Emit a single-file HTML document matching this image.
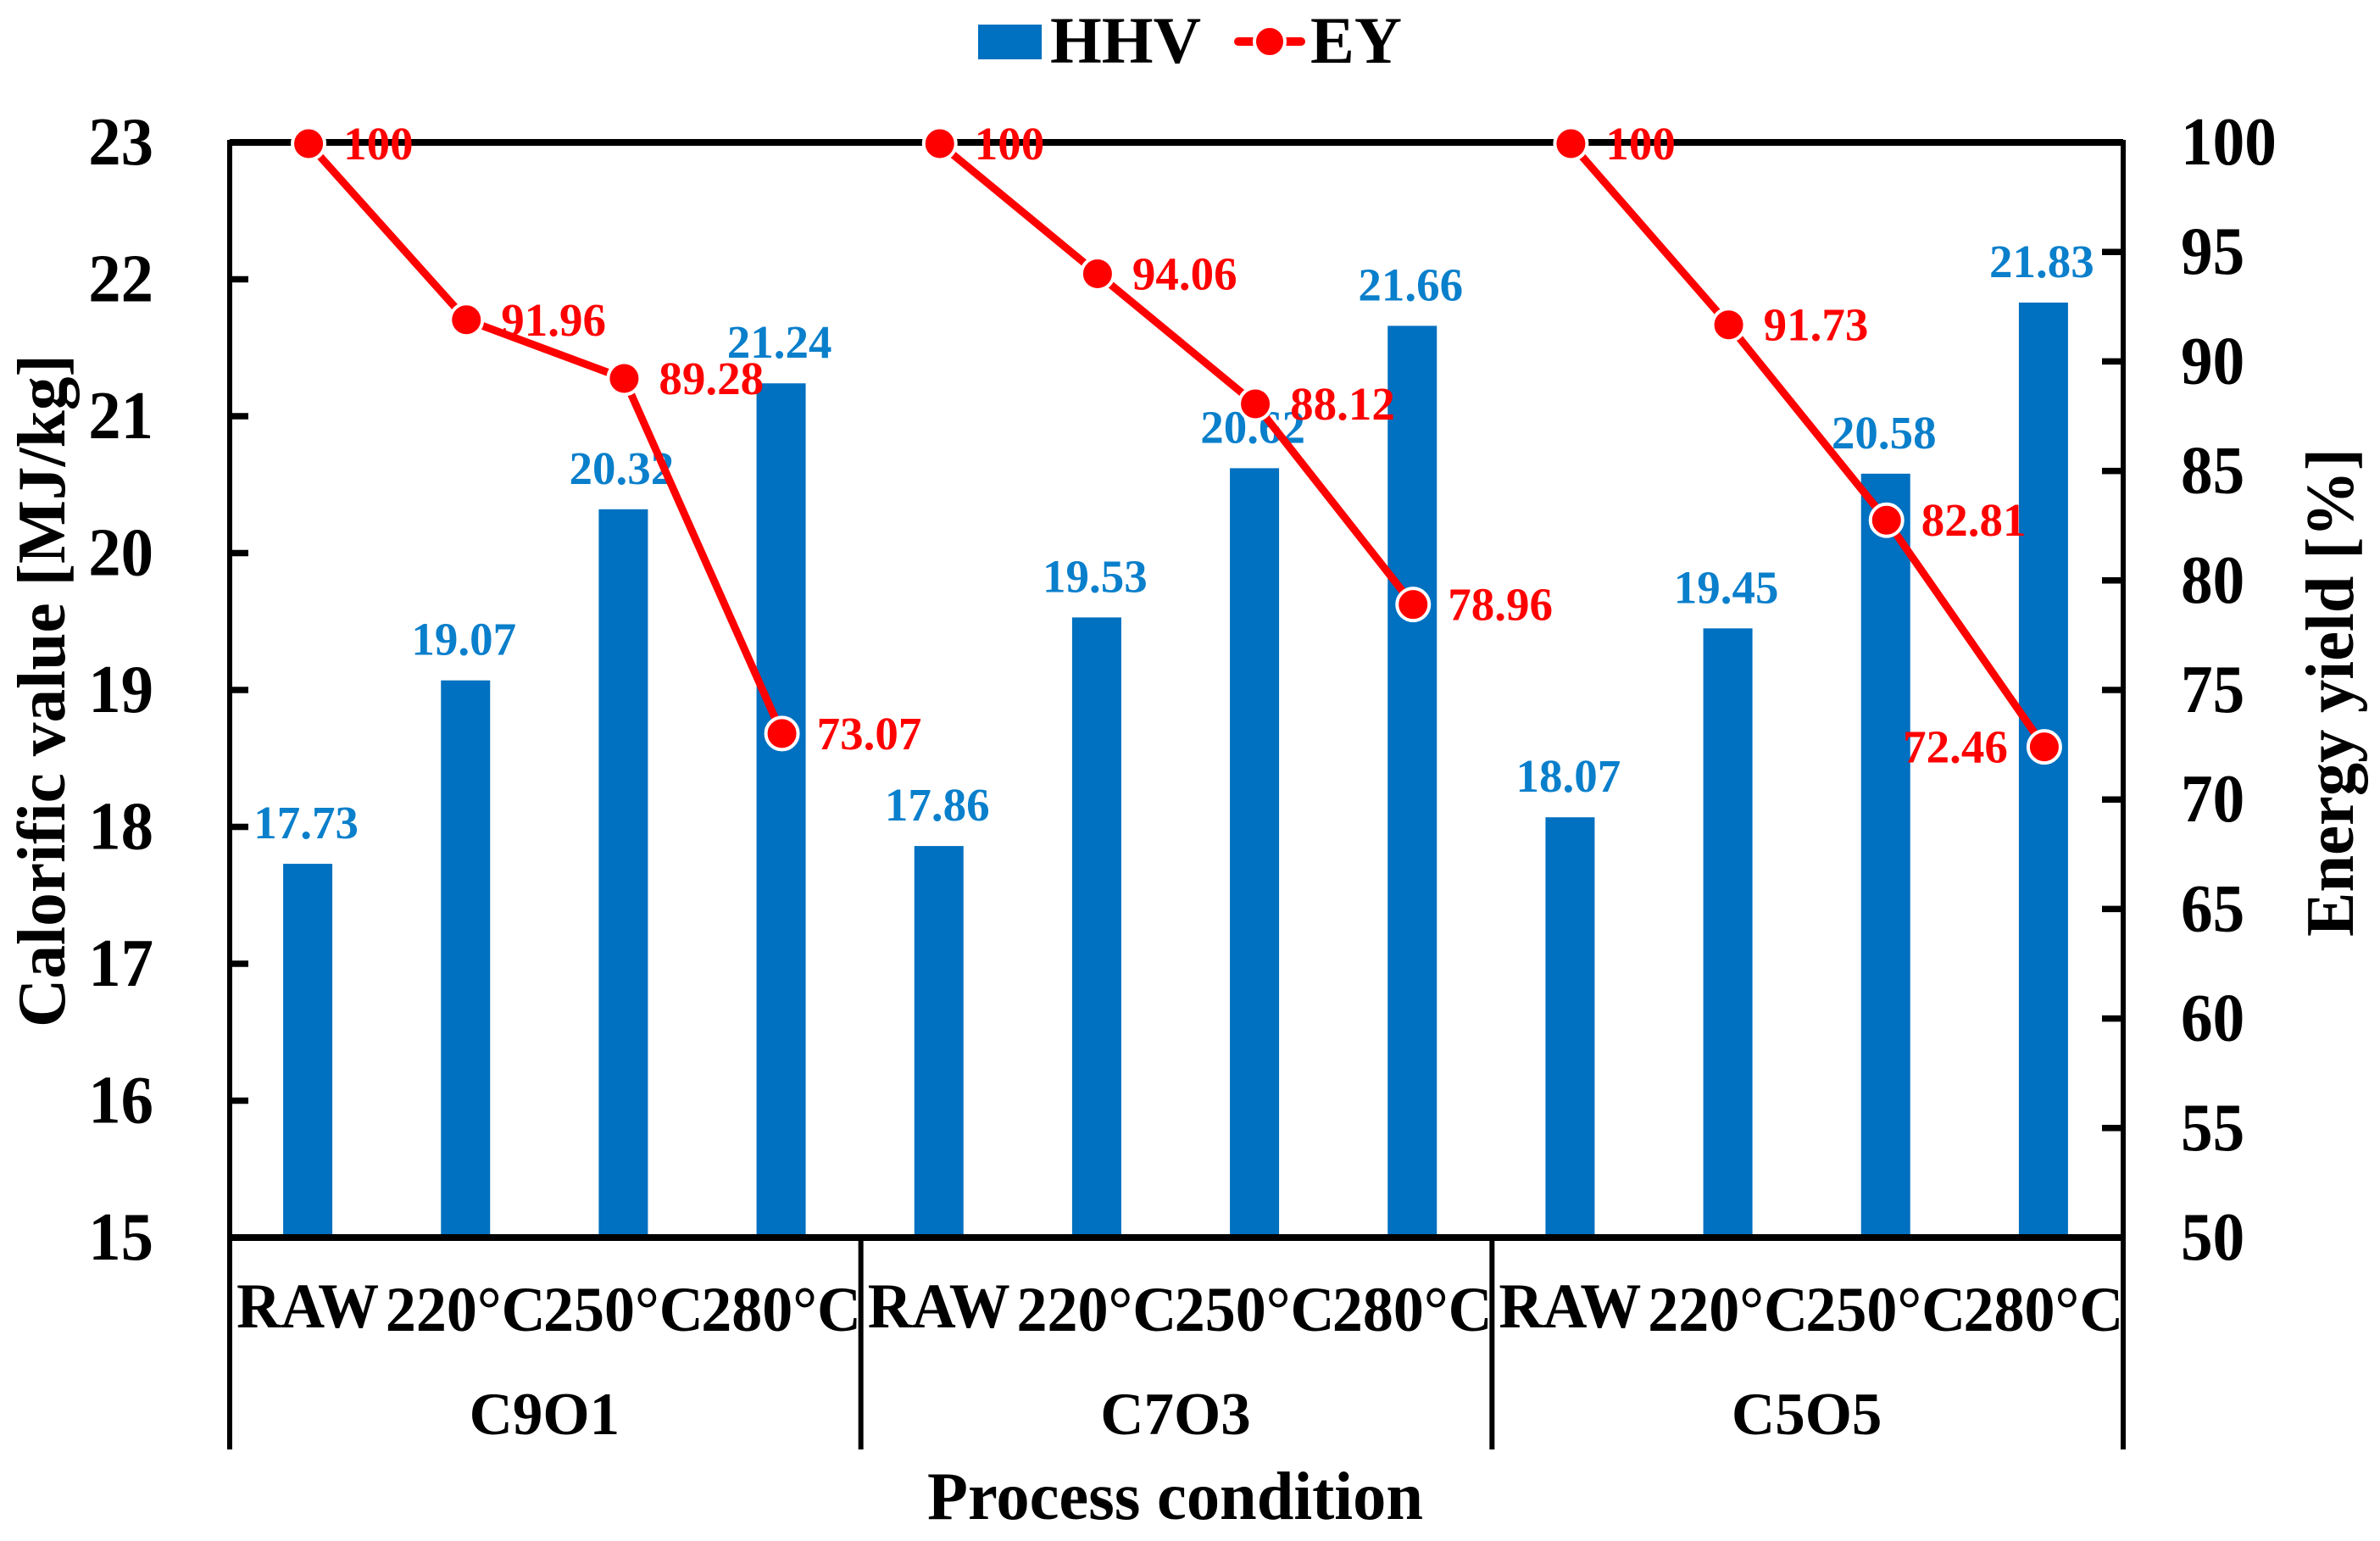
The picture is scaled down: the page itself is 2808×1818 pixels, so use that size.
<!DOCTYPE html>
<html lang="en">
<head>
<meta charset="utf-8">
<title>Calorific value and energy yield by process condition</title>
<style>
html,body{margin:0;padding:0;background:#fff;}
svg{display:block;}
text{font-family:"Liberation Serif",serif;font-weight:bold;}
</style>
</head>
<body>
<svg id="chart" xmlns="http://www.w3.org/2000/svg" width="2808" height="1818" viewBox="0 0 2808 1818">
  <rect x="0" y="0" width="2808" height="1818" fill="#ffffff"/>
  <g id="bars"></g>
  <g id="hhv-labels"></g>
  <g id="axes"></g>
  <g id="line"></g>
  <g id="ey-labels"></g>
  <g id="ticks"></g>
  <g id="categories"></g>

  <text x="76" y="1212" transform="rotate(-90 76 1212)" font-size="80" textLength="794" lengthAdjust="spacingAndGlyphs">Calorific value [MJ/kg]</text>
  <text x="2776" y="1105" transform="rotate(-90 2776 1105)" font-size="80" textLength="576" lengthAdjust="spacingAndGlyphs">Energy yield [%]</text>
  <text x="1094" y="1792" font-size="80" textLength="585" lengthAdjust="spacingAndGlyphs">Process condition</text>

  <g>
    <g>
      <rect x="1154" y="29" width="75" height="41" fill="#0070c0"/>
      <text x="1239" y="74" font-size="78" textLength="178" lengthAdjust="spacingAndGlyphs">HHV</text>
    </g>
    <g>
      <line x1="1461" y1="49" x2="1535" y2="49" stroke="#ff0000" stroke-width="10" stroke-linecap="round"/>
      <circle cx="1498" cy="49" r="18" fill="#ff0000" stroke="#ffffff" stroke-width="4"/>
      <text x="1546" y="74" font-size="78" textLength="108" lengthAdjust="spacingAndGlyphs">EY</text>
    </g>
  </g>
</svg>
<script>
const groupNames = ['C9O1', 'C7O3', 'C5O5'];
const categories = ['RAW', '220°C', '250°C', '280°C', 'RAW', '220°C', '250°C', '280°C', 'RAW', '220°C', '250°C', '280°C'];
const hhvValues = [17.73, 19.07, 20.32, 21.24, 17.86, 19.53, 20.62, 21.66, 18.07, 19.45, 20.58, 21.83];
const eyValues = [100, 91.96, 89.28, 73.07, 100, 94.06, 88.12, 78.96, 100, 91.73, 82.81, 72.46];
const leftTicks = [15, 16, 17, 18, 19, 20, 21, 22, 23];
const rightTicks = [50, 55, 60, 65, 70, 75, 80, 85, 90, 95, 100];

const NS = 'http://www.w3.org/2000/svg';
const plot = { left: 271, right: 2505, top: 168, bottom: 1460 };
const catsPerGroup = 4;
const step = (plot.right - plot.left) / categories.length;
const barWidth = 58;

function xAt(i) { return plot.left + step * (i + 0.5) - 1; }
function yLeft(v) { return plot.bottom - (v - leftTicks[0]) / (leftTicks[leftTicks.length - 1] - leftTicks[0]) * (plot.bottom - plot.top); }
function yRight(v) { return plot.bottom - (v - rightTicks[0]) / (rightTicks[rightTicks.length - 1] - rightTicks[0]) * (plot.bottom - plot.top); }
function make(tag, parent, props) {
  const node = document.createElementNS(NS, tag);
  for (const k in props) node.setAttribute(k, props[k]);
  parent.appendChild(node);
  return node;
}
function makeText(parent, str, x, y, size, sx, anchor, fill) {
  const node = make('text', parent, {
    transform: 'translate(' + x + ' ' + y + ') scale(' + sx + ' 1)',
    'font-size': size,
    'text-anchor': anchor,
    fill: fill
  });
  node.textContent = str;
  return node;
}

const gBars = document.getElementById('bars');
const gHhv = document.getElementById('hhv-labels');
const gAxes = document.getElementById('axes');
const gLine = document.getElementById('line');
const gEy = document.getElementById('ey-labels');
const gTicks = document.getElementById('ticks');
const gCats = document.getElementById('categories');

hhvValues.forEach(function (v, i) {
  const bar = make('rect', gBars, {
    x: xAt(i) - barWidth / 2,
    y: yLeft(v),
    width: barWidth,
    height: plot.bottom - yLeft(v),
    fill: '#0070c0'
  });
  
  
  const label = makeText(gHhv, v.toFixed(2), xAt(i) - 2, yLeft(v) - 30, 55, 1, 'middle', '#0a7fcb');
  
  
});

const axisStroke = { stroke: '#000000', 'stroke-width': 6, 'stroke-linecap': 'square' };
const frame = make('path', gAxes, Object.assign({
  d: 'M' + plot.left + ' ' + plot.bottom + 'V' + plot.top + 'H' + plot.right + 'V' + plot.bottom,
  fill: 'none',
  'stroke-linejoin': 'miter'
}, axisStroke));



const topRule = make('line', gAxes, { x1: plot.left, y1: plot.top, x2: plot.right, y2: plot.top, stroke: '#000000', 'stroke-width': 8 });



const baseRule = make('line', gAxes, { x1: plot.left - 3, y1: plot.bottom, x2: plot.right + 3, y2: plot.bottom, stroke: '#000000', 'stroke-width': 8 });



for (let g = 0; g <= groupNames.length; g++) {
  const dx = plot.left + g * catsPerGroup * step;
  const divider = make('line', gAxes, { x1: dx, y1: plot.bottom, x2: dx, y2: 1710, stroke: '#000000', 'stroke-width': 6 });
  
  
}

leftTicks.forEach(function (t) {
  const y = yLeft(t);
  if (t !== leftTicks[0] && t !== leftTicks[leftTicks.length - 1]) {
    const tick = make('line', gAxes, { x1: plot.left, y1: y, x2: plot.left + 22, y2: y, stroke: '#000000', 'stroke-width': 7.5 });
    
    
  }
  const label = makeText(gTicks, String(t), 181, y + 26, 80, 0.96, 'end', '#000000');
  
  
});

rightTicks.forEach(function (t) {
  const y = yRight(t);
  if (t !== rightTicks[0] && t !== rightTicks[rightTicks.length - 1]) {
    const tick = make('line', gAxes, { x1: plot.right - 25, y1: y, x2: plot.right, y2: y, stroke: '#000000', 'stroke-width': 7.5 });
    
    
  }
  const label = makeText(gTicks, String(t), 2573, y + 26, 80, 0.94, 'start', '#000000');
  
  
});

categories.forEach(function (c, i) {
  const label = makeText(gCats, c, xAt(i), c === 'RAW' ? 1566 : 1570, 75, 0.96, 'middle', '#000000');
  
  
});

groupNames.forEach(function (name, g) {
  const cx = plot.left + (g + 0.5) * catsPerGroup * step - 1;
  const label = makeText(gCats, name, cx, 1692, 71, 1, 'middle', '#000000');
  
  
});

const lineDrop = 1.5;

groupNames.forEach(function (name, g) {
  const pts = [];
  for (let k = 0; k < catsPerGroup; k++) {
    const idx = g * catsPerGroup + k;
    pts.push((xAt(idx) + 1) + ' ' + (yRight(eyValues[idx]) + lineDrop));
  }
  const segment = make('polyline', gLine, {
    points: pts.join(','),
    fill: 'none',
    stroke: '#ff0000',
    'stroke-width': 9,
    'stroke-linejoin': 'round'
  });
  
  
});

eyValues.forEach(function (v, i) {
  const marker = make('circle', gLine, {
    cx: xAt(i) + 1,
    cy: yRight(v) + lineDrop,
    r: 19,
    fill: '#ff0000',
    stroke: '#ffffff',
    'stroke-width': 4
  });
  
  
  const onLeft = i === eyValues.length - 1;
  const label = makeText(gEy, String(v), xAt(i) + (onLeft ? -42 : 42), yRight(v) + 20, 55, 1, onLeft ? 'end' : 'start', '#ff0000');
  
  
});
</script>
</body>
</html>
